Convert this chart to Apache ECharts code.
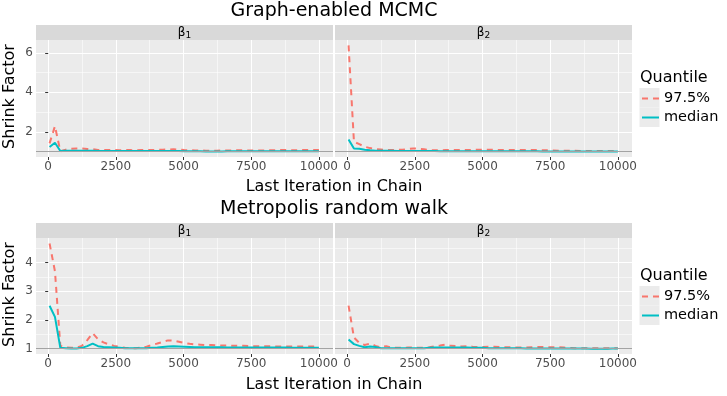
<!DOCTYPE html>
<html>
<head>
<meta charset="utf-8">
<title>Shrink Factor</title>
<script src="https://cdn.jsdelivr.net/npm/echarts@6/dist/echarts.min.js"></script>
<style>
  html, body { margin: 0; padding: 0; background: #fff; }
  #chart { width: 727px; height: 396px; }
</style>
</head>
<body>
<div id="chart"></div>
<script>
// last iteration of each bin (gelman plot)
var iterations = [51,250,449,648,847,1046,1245,1444,1643,1842,2041,2240,2439,2638,2837,3036,3235,3434,3633,3832,4031,4230,4429,4628,4827,5026,5225,5424,5623,5822,6021,6220,6419,6618,6817,7016,7215,7414,7613,7812,8011,8210,8409,8608,8807,9006,9205,9404,9603,9802,10000];

// Graph-enabled MCMC
var geBeta1Q975 = [1.42,2.29,1.02,1.10,1.15,1.16,1.16,1.14,1.12,1.09, 1.08,1.09,1.08,1.07,1.08,1.08,1.07,1.08,1.08,1.08, 1.09,1.10,1.11,1.12,1.10,1.08,1.07,1.06,1.06,1.05, 1.05,1.05,1.06,1.06,1.06,1.07,1.07,1.06,1.06,1.06, 1.06,1.07,1.07,1.08,1.08,1.07,1.07,1.08,1.08,1.08, 1.08];
var geBeta1Median = [1.24,1.45,1.03,1.04,1.05,1.05,1.05,1.04,1.04,1.03, 1.03,1.03,1.03,1.03,1.03,1.03,1.03,1.03,1.03,1.03, 1.03,1.03,1.03,1.03,1.03,1.02,1.02,1.02,1.02,1.01, 1.01,1.01,1.01,1.02,1.02,1.02,1.02,1.02,1.02,1.02, 1.02,1.02,1.02,1.02,1.02,1.02,1.02,1.02,1.02,1.02, 1.02];
var geBeta2Q975 = [6.38,1.50,1.38,1.25,1.18,1.13,1.11,1.09,1.08,1.09, 1.10,1.13,1.16,1.15,1.12,1.08,1.07,1.07,1.08,1.08, 1.08,1.09,1.09,1.09,1.10,1.10,1.10,1.09,1.09,1.08, 1.08,1.08,1.08,1.08,1.08,1.08,1.07,1.07,1.06,1.05, 1.04,1.04,1.04,1.03,1.03,1.03,1.03,1.03,1.03,1.03, 1.03];
var geBeta2Median = [1.62,1.16,1.15,1.10,1.07,1.05,1.04,1.04,1.04,1.03, 1.03,1.03,1.03,1.03,1.03,1.03,1.03,1.02,1.02,1.02, 1.02,1.02,1.02,1.02,1.02,1.02,1.02,1.02,1.02,1.02, 1.02,1.02,1.02,1.02,1.02,1.02,1.01,1.01,1.01,1.01, 1.01,1.01,1.01,1.01,1.01,1.01,1.01,1.01,1.01,1.01, 1.01];

// Metropolis random walk
var mrwBeta1Q975 = [4.67,3.70,1.10,1.05,1.03,1.04,1.10,1.30,1.54,1.33, 1.22,1.15,1.10,1.06,1.03,1.02,1.02,1.04,1.07,1.13, 1.18,1.24,1.29,1.28,1.24,1.20,1.17,1.15,1.14,1.13, 1.13,1.12,1.11,1.11,1.10,1.10,1.10,1.09,1.09,1.09, 1.09,1.09,1.08,1.08,1.08,1.08,1.08,1.08,1.08,1.08, 1.09];
var mrwBeta1Median = [2.50,2.11,1.03,1.02,1.01,1.01,1.03,1.09,1.18,1.09, 1.06,1.05,1.04,1.03,1.02,1.02,1.02,1.02,1.02,1.03, 1.04,1.06,1.08,1.09,1.08,1.07,1.06,1.05,1.05,1.05, 1.05,1.05,1.05,1.04,1.04,1.04,1.04,1.04,1.04,1.04, 1.04,1.04,1.04,1.04,1.04,1.03,1.03,1.03,1.03,1.03, 1.03];
var mrwBeta2Q975 = [2.50,1.39,1.20,1.13,1.18,1.10,1.05,1.09,1.04,1.03, 1.03,1.04,1.04,1.03,1.03,1.05,1.09,1.11,1.14,1.10, 1.09,1.08,1.09,1.07,1.06,1.06,1.07,1.07,1.06,1.05, 1.05,1.04,1.04,1.04,1.05,1.06,1.06,1.05,1.05,1.05, 1.04,1.03,1.02,1.02,1.02,1.02,1.02,1.02,1.02,1.02, 1.02];
var mrwBeta2Median = [1.32,1.16,1.10,1.05,1.08,1.06,1.02,1.02,1.02,1.02, 1.02,1.02,1.02,1.02,1.02,1.03,1.04,1.04,1.04,1.04, 1.04,1.04,1.04,1.03,1.03,1.03,1.02,1.02,1.02,1.02, 1.02,1.02,1.02,1.01,1.01,1.01,1.01,1.01,1.01,1.01, 1.01,1.01,1.01,1.01,1.01,1.00,1.00,1.00,1.00,1.01, 1.01];

var xTicks = [0, 2500, 5000, 7500, 10000];
var xMinor = [1250, 3750, 6250, 8750];
var yTicksTop = [2, 4, 6];
var yMinorTop = [1, 3, 5];
var yTicksBottom = [1, 2, 3, 4];
var yMinorBottom = [1.5, 2.5, 3.5, 4.5];
var seriesNames = ['97.5%', 'median'];

var FONT = 'DejaVu Sans';
var RED = '#F8766D', CYAN = '#00BFC4';

var chart = echarts.init(document.getElementById('chart'), null, { renderer: 'canvas' });

function pairs(vals) {
	return iterations.map(function (x, i) { return [x, vals[i]]; });
}
function plain(v) { return String(v); }

var grids = [], xAxes = [], yAxes = [], series = [];

function addPanel(left, top, yMin, yMax, yMajor, yMinor, showY, q975, med) {
	var g = grids.length;
	grids.push({ left: left, top: top, width: 297, height: top < 100 ? 117 : 116,
		show: true, backgroundColor: '#EBEBEB', borderWidth: 0 });
	// major x
	xAxes.push({ type: 'value', gridIndex: g, min: -450, max: 10520,
		axisLine: { show: false },
		axisTick: { show: true, length: 3, customValues: xTicks, lineStyle: { color: '#333333' } },
		axisLabel: { customValues: xTicks, formatter: plain, margin: 4, color: '#4D4D4D', fontSize: 12, fontFamily: FONT },
		splitLine: { show: true, lineStyle: { color: '#FFFFFF', width: 1.1 } } });
	// minor x
	xAxes.push({ type: 'value', gridIndex: g, min: -450, max: 10520, position: 'bottom',
		axisLine: { show: false }, axisLabel: { show: false },
		axisTick: { show: false, customValues: xMinor },
		splitLine: { show: true, lineStyle: { color: '#FFFFFF', width: 0.55 } } });
	yAxes.push({ type: 'value', gridIndex: g, min: yMin, max: yMax,
		axisLine: { show: false },
		axisTick: { show: showY, length: 3, customValues: yMajor, lineStyle: { color: '#333333' } },
		axisLabel: { show: showY, customValues: yMajor, formatter: plain, margin: 3, color: '#4D4D4D', fontSize: 12, fontFamily: FONT },
		splitLine: { show: true, lineStyle: { color: '#FFFFFF', width: 1.1 } } });
	yAxes.push({ type: 'value', gridIndex: g, min: yMin, max: yMax, position: 'left',
		axisLine: { show: false }, axisLabel: { show: false },
		axisTick: { show: false, customValues: yMinor },
		splitLine: { show: true, lineStyle: { color: '#FFFFFF', width: 0.55 } } });

	series.push({ name: seriesNames[0], type: 'line', xAxisIndex: g * 2, yAxisIndex: g * 2,
		data: pairs(q975), symbol: 'none', showSymbol: false,
		lineStyle: { color: RED, width: 2, type: [6, 5] }, itemStyle: { color: RED },
		markLine: { silent: true, symbol: 'none', label: { show: false },
			lineStyle: { color: '#A3A3A3', width: 1, type: 'solid' },
			data: [{ yAxis: 1 }] } });
	series.push({ name: seriesNames[1], type: 'line', xAxisIndex: g * 2, yAxisIndex: g * 2,
		data: pairs(med), symbol: 'none', showSymbol: false,
		lineStyle: { color: CYAN, width: 2 }, itemStyle: { color: CYAN } });
}

addPanel(36, 40, 0.73, 6.65, yTicksTop, yMinorTop, true, geBeta1Q975, geBeta1Median);
addPanel(335, 40, 0.73, 6.65, yTicksTop, yMinorTop, false, geBeta2Q975, geBeta2Median);
addPanel(36, 238, 0.816, 4.86, yTicksBottom, yMinorBottom, true, mrwBeta1Q975, mrwBeta1Median);
addPanel(335, 238, 0.816, 4.86, yTicksBottom, yMinorBottom, false, mrwBeta2Q975, mrwBeta2Median);

var stripRich = {
	b: { fontFamily: FONT, fontSize: 12, lineHeight: 14, color: '#1A1A1A' },
	s: { fontFamily: FONT, fontSize: 9, lineHeight: 9, color: '#1A1A1A', verticalAlign: 'bottom' }
};

var graphics = [];
[0, 198].forEach(function (dy) {
	// facet strips
	graphics.push({ type: 'rect', shape: { x: 36, y: 25 + dy, width: 297, height: 15 }, style: { fill: '#D9D9D9' } });
	graphics.push({ type: 'rect', shape: { x: 335, y: 25 + dy, width: 297, height: 15 }, style: { fill: '#D9D9D9' } });
	graphics.push({ type: 'text', x: 184.5, y: 33 + dy, style: { text: '{b|β}{s|1}', rich: stripRich, align: 'center', verticalAlign: 'middle' } });
	graphics.push({ type: 'text', x: 483.5, y: 33 + dy, style: { text: '{b|β}{s|2}', rich: stripRich, align: 'center', verticalAlign: 'middle' } });
	// axis titles
	graphics.push({ type: 'text', x: 334, y: 186.5 + dy, style: { text: 'Last Iteration in Chain', fill: '#000', font: '16px "DejaVu Sans"', textAlign: 'center', textVerticalAlign: 'middle' } });
	graphics.push({ type: 'text', x: 10, y: 96.5 + dy, rotation: Math.PI / 2, style: { text: 'Shrink Factor', fill: '#000', font: '16px "DejaVu Sans"', textAlign: 'center', textVerticalAlign: 'middle' } });
	// legend title and key background
	graphics.push({ type: 'text', x: 640, y: 77.5 + dy, style: { text: 'Quantile', fill: '#000', font: '16px "DejaVu Sans"', textAlign: 'left', textVerticalAlign: 'middle' } });
	graphics.push({ type: 'rect', shape: { x: 639.5, y: 88 + dy, width: 20, height: 19.5 }, style: { fill: '#EBEBEB' } });
	graphics.push({ type: 'rect', shape: { x: 639.5, y: 107.5 + dy, width: 20, height: 19.5 }, style: { fill: '#EBEBEB' } });
});

var legendBase = { data: seriesNames, orient: 'vertical', left: 641, padding: 0, itemGap: 0,
	itemWidth: 17, itemHeight: 14, selectedMode: false,
	itemStyle: { opacity: 0 },
	textStyle: { fontFamily: FONT, fontSize: 14.5, lineHeight: 19, color: '#000' } };

var option = {
	animation: false,
	backgroundColor: '#FFFFFF',
	title: [
		{ text: 'Graph-enabled MCMC', left: 334, textAlign: 'center', top: 2, padding: 0,
			textStyle: { fontFamily: FONT, fontSize: 19, fontWeight: 'normal', color: '#000' } },
		{ text: 'Metropolis random walk', left: 334, textAlign: 'center', top: 200, padding: 0,
			textStyle: { fontFamily: FONT, fontSize: 19, fontWeight: 'normal', color: '#000' } }
	],
	legend: [
		Object.assign({}, legendBase, { top: 89 }),
		Object.assign({}, legendBase, { top: 287 })
	],
	grid: grids,
	xAxis: xAxes,
	yAxis: yAxes,
	series: series,
	graphic: { elements: graphics }
};
chart.setOption(option);
</script>
</body>
</html>
